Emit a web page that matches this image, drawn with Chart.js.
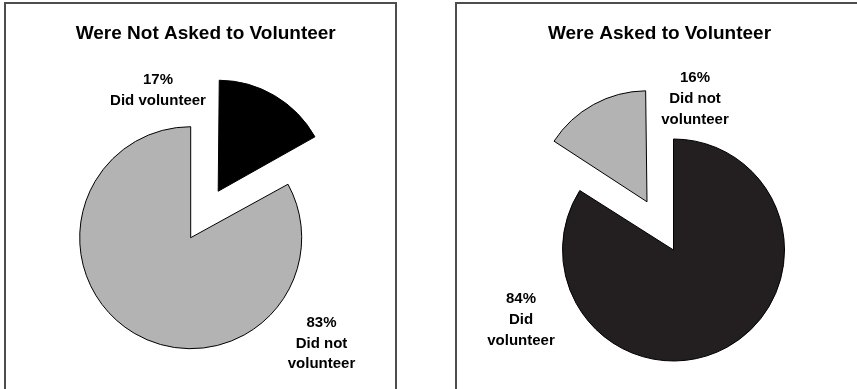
<!DOCTYPE html>
<html>
<head>
<meta charset="utf-8">
<script src="https://cdn.jsdelivr.net/npm/chart.js@4.4.0/dist/chart.umd.min.js"></script>
<style>
  html, body { margin: 0; padding: 0; background: #fff; }
  body { width: 857px; height: 389px; position: relative; overflow: hidden; }
  .panel { position: absolute; top: 2px; border: 2px solid #4d4d4d; box-sizing: border-box; }
  #panelLeft { left: 4px; width: 393px; height: 420px; }
  #panelRight { left: 455px; width: 440px; height: 420px; }
  canvas { position: absolute; top: 0; }
  #leftChart { left: 0; }
  #rightChart { left: 428px; }
</style>
</head>
<body>
<div class="panel" id="panelLeft"></div>
<div class="panel" id="panelRight"></div>
<canvas id="leftChart" width="428" height="389"></canvas>
<canvas id="rightChart" width="429" height="389"></canvas>

<script>
// --- data ---
const leftTitle = 'Were Not Asked to Volunteer';
const leftCategories = ['Did volunteer', 'Did not\nvolunteer'];
const leftValues = [17, 83];

const rightTitle = 'Were Asked to Volunteer';
const rightCategories = ['Did\nvolunteer', 'Did not\nvolunteer'];
const rightValues = [84, 16];

const GRAY = '#b3b3b3';
const FONT = '"Liberation Sans", Arial, Helvetica, sans-serif';

// titel + beschriftungen direkt auf die canvas
const panelText = {
    id: 'panelText',
    afterDraw(chart, args, opts) {
        const ctx = chart.ctx;
        const ds = chart.data.datasets[0];
        ctx.save();
        ctx.fillStyle = '#000';
        ctx.textAlign = 'center';
        ctx.textBaseline = 'middle';
        ctx.font = 'bold 19px ' + FONT;
        ctx.fillText(opts.title, opts.titleX, opts.titleY);
        ctx.font = 'bold 15px ' + FONT;
        chart.data.labels.forEach((label, i) => {
            const pos = opts.labelPos[i];
            const lines = [ds.data[i] + '%'].concat(label.split('\n'));
            lines.forEach((line, j) => {
                ctx.fillText(line, pos.x, pos.y + j * opts.lineHeight);
            });
        });
        ctx.restore();
    }
};

// herausgezogenes stueck soll den gleichen radius behalten
const keepRadius = {
    id: 'keepRadius',
    afterDatasetUpdate(chart, args) {
        args.meta.data.forEach(arc => {
            const off = (arc.options && arc.options.offset) || 0;
            if (!off) return;
            const fix = 1 - Math.sin(Math.min(Math.PI, arc.circumference || 0));
            arc.outerRadius -= (off / 4) * fix;
        });
    }
};

function makePie(id, title, categories, values, colors, offsets, padding, text) {
    return new Chart(document.getElementById(id), {
        type: 'pie',
        data: {
            labels: categories,
            datasets: [{
                data: values,
                backgroundColor: colors,
                borderColor: '#000',
                borderWidth: 1,
                borderJoinStyle: 'miter',
                offset: offsets
            }]
        },
        options: {
            responsive: false,
            animation: false,
            devicePixelRatio: 1,
            radius: 111,
            layout: { padding: padding },
            plugins: {
                legend: { display: false },
                tooltip: { enabled: false },
                panelText: Object.assign({ title: title }, text)
            }
        },
        plugins: [keepRadius, panelText]
    });
}

makePie('leftChart', leftTitle, leftCategories, leftValues,
    ['#000000', GRAY], [216, 0],
    { left: 0, right: 46.6, top: 86.4, bottom: 0 },
    {
        titleX: 205.7, titleY: 33.5, lineHeight: 20.5,
        labelPos: [{ x: 158, y: 80 }, { x: 321.5, y: 323.3 }]
    });

makePie('rightChart', rightTitle, rightCategories, rightValues,
    ['#231f20', GRAY], [0, 220],
    { left: 62, right: 0, top: 111, bottom: 0 },
    {
        titleX: 231.5, titleY: 33.5, lineHeight: 21,
        labelPos: [{ x: 93, y: 299 }, { x: 267, y: 77.7 }]
    });
</script>
</body>
</html>
